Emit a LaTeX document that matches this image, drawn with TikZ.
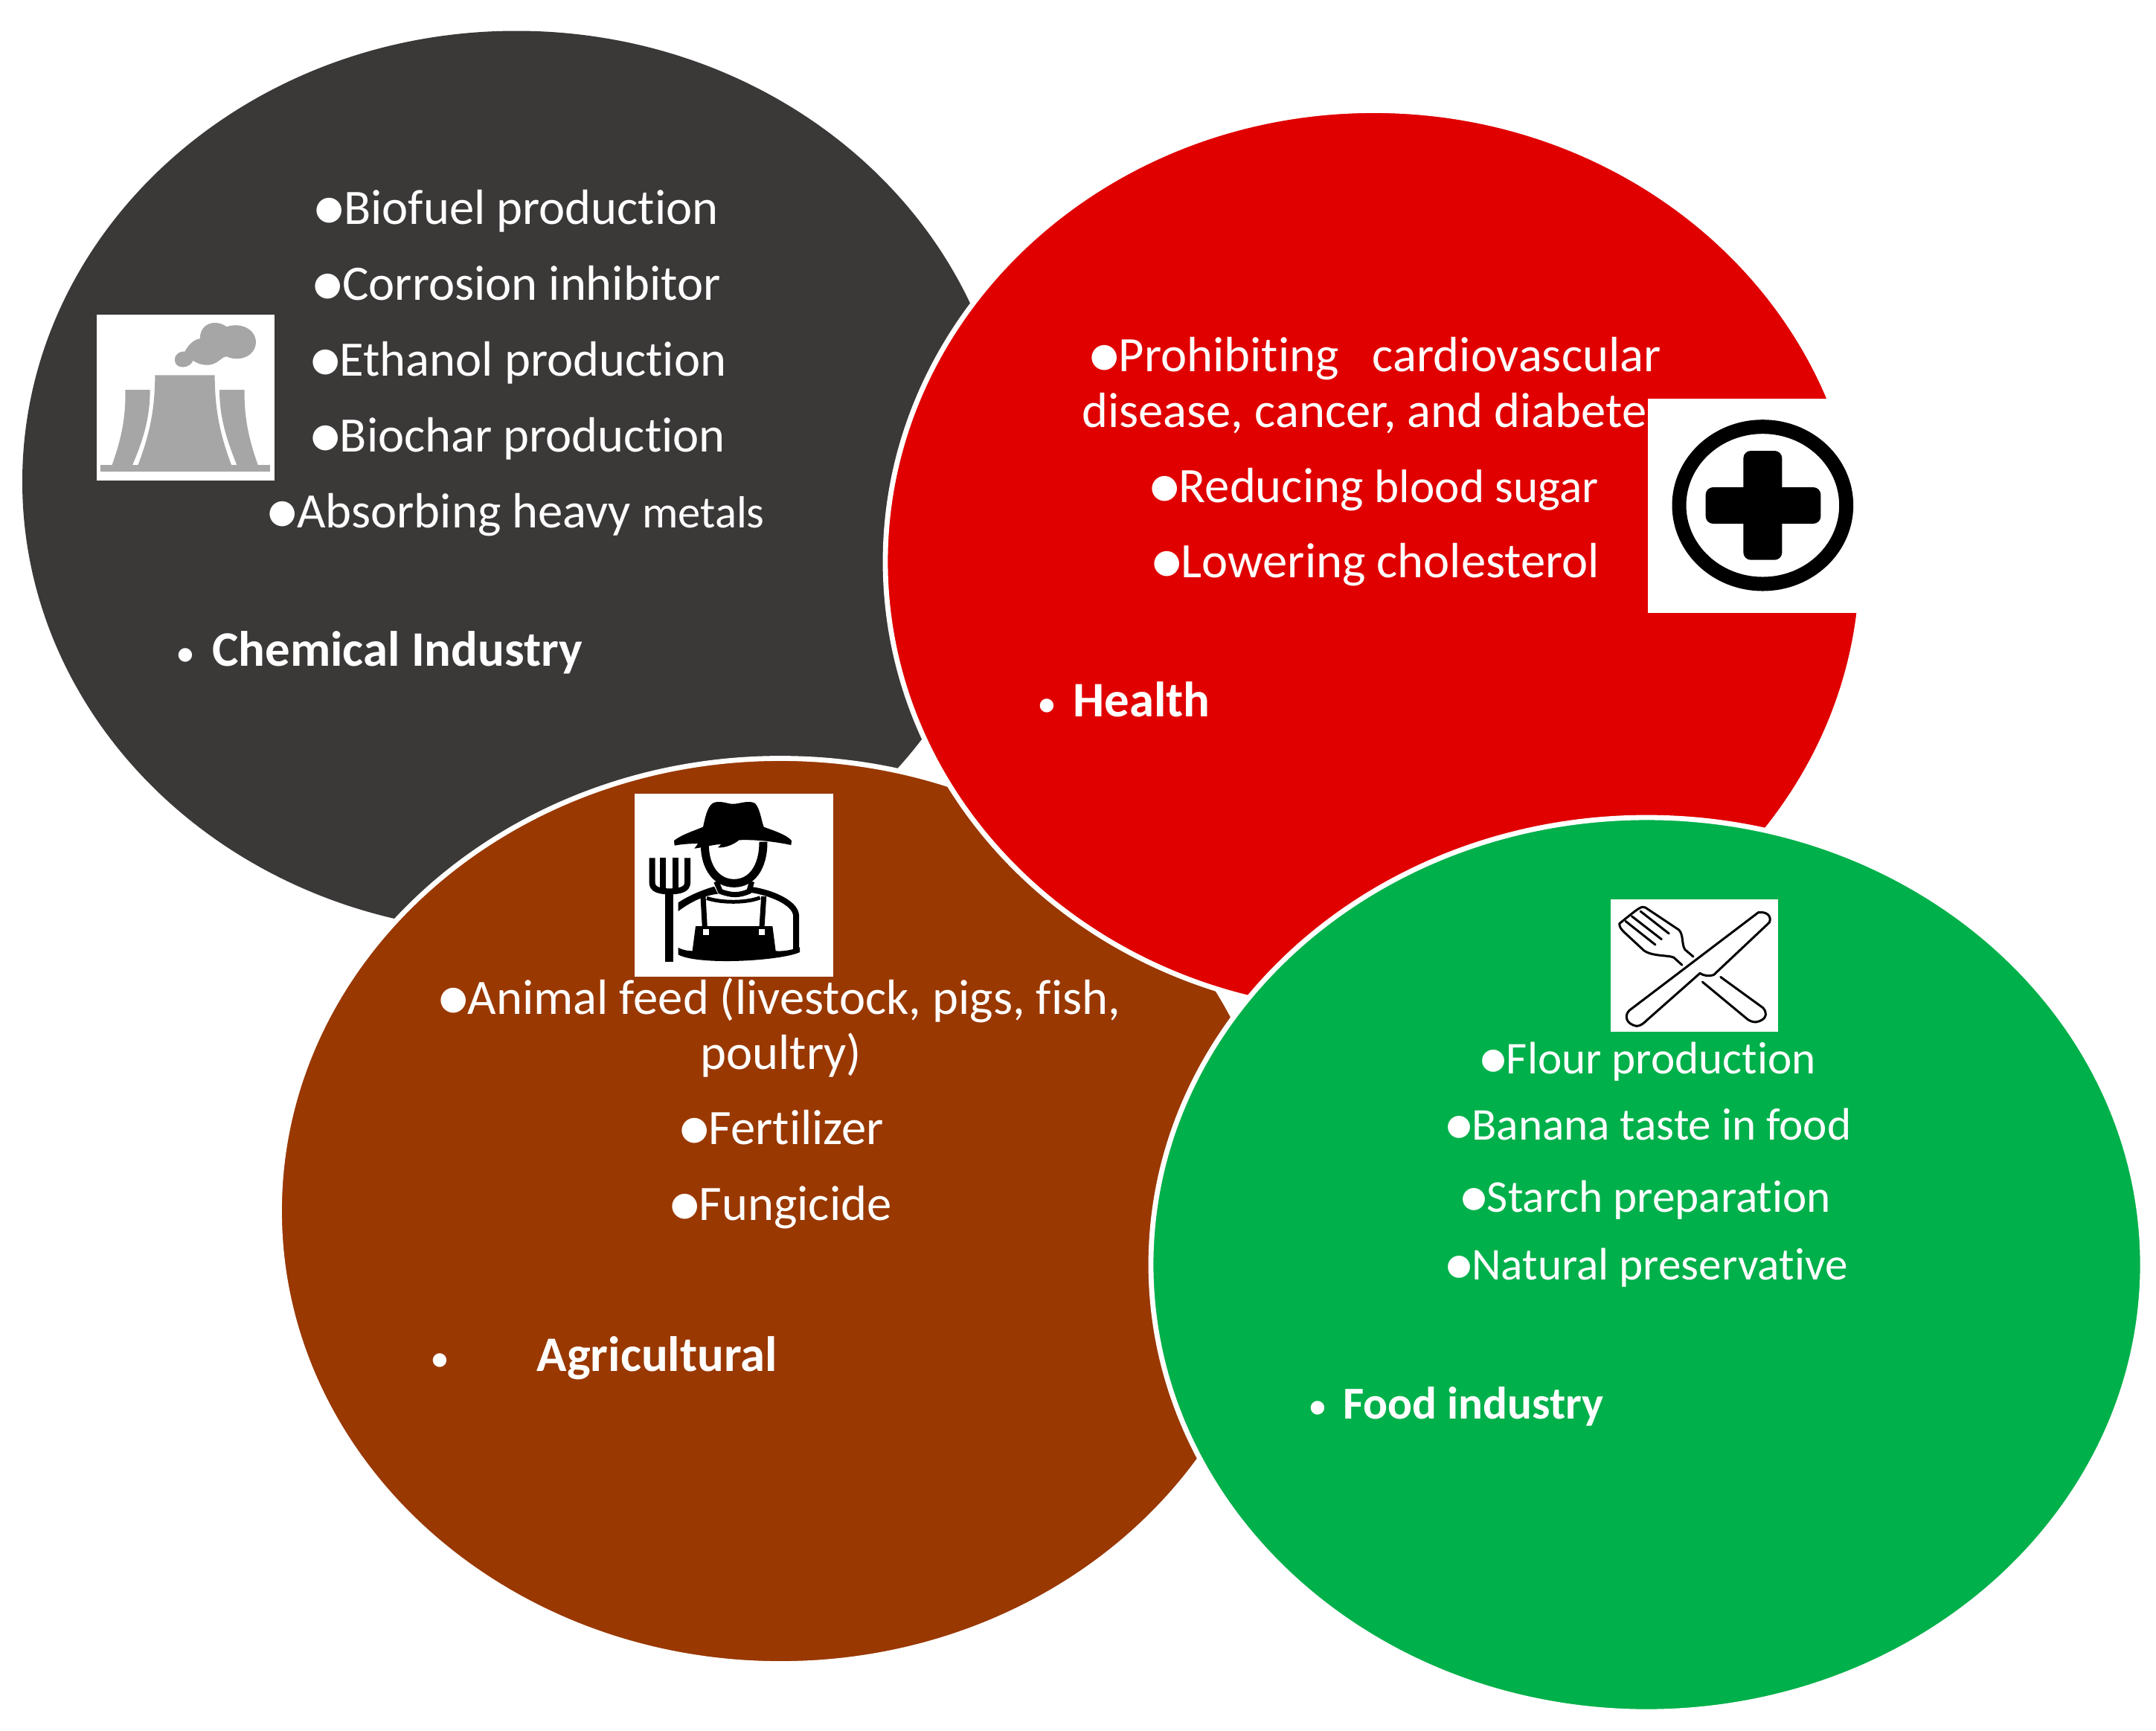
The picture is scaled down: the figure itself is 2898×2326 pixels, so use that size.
\documentclass[tikz,border=0pt]{standalone}
\usepackage{fontspec}
\setmainfont{Carlito}[Ligatures=NoCommon]
\newfontfamily\djfont{DejaVu Sans}
\newcommand{\bul}{\raisebox{3.5pt}{\djfont\fontsize{22}{22}\selectfont ●}}
\newcommand{\fbul}{\raisebox{3.2pt}{\djfont\fontsize{19.5}{20}\selectfont ●}}
\newcommand{\hb}[1]{\makebox[#1][l]{\mdseries\fontsize{26}{26}\selectfont •}}
\newcommand{\smtxt}[1]{{\fontsize{30.3}{31}\selectfont #1}}
\newcommand{\mdtxt}[1]{{\fontsize{31.6}{32}\selectfont #1}}
\definecolor{cdark}{HTML}{3B3838}
\definecolor{cred}{HTML}{E00000}
\definecolor{cbrown}{HTML}{993800}
\definecolor{cgreen}{HTML}{00B04A}
\definecolor{cgray}{HTML}{A6A6A6}
\tikzset{
 blob/.style={draw=white,line width=3.4pt},
 item/.style={anchor=base west,text=white,inner sep=0pt,font=\fontsize{33.3}{36}\selectfont},
 fooditem/.style={item,font=\fontsize{30.6}{33}\selectfont},
 head/.style={item,font=\bfseries\fontsize{33.4}{36}\selectfont},
 foodhead/.style={item,font=\bfseries\fontsize{30.7}{34}\selectfont},
 zoomed/.style={x=0.16667pt,y=-0.16667pt},
 thin line/.style={draw=black,line width=1.5pt,line cap=round,line join=round}
}
\begin{document}
\begin{tikzpicture}[x=0.5pt,y=-0.5pt]
\useasboundingbox (0,0) rectangle (2898,2326);
\fill[white] (0,0) rectangle (2898,2326);
% dark circle
\fill[cdark] (694,647.5) ellipse [x radius=664,y radius=606];
% brown circle
\draw[blob,fill=cbrown] (1049,1628) ellipse [x radius=673.5,y radius=608.5];
% red circle
\draw[blob,fill=cred] (1846.5,755) ellipse [x radius=656.5,y radius=606.5];
% green circle
\draw[blob,fill=cgreen] (2213.5,1700) ellipse [x radius=666.5,y radius=601];

% text dark
\node[item] (t1) at (423.5,301) {\bul Biofuel production};
\node[item] (t2) at (421.5,403) {\bul Corrosion inhibitor};
\node[item] (t3) at (418,505) {\bul Ethanol production};
\node[item] (t4) at (418,607) {\bul Biochar production};
\node[item] (t5) at (360.5,709) {\bul Absorbing heavy \smtxt{metals}};
\node[head] (t6) at (236,895) {\hb{24.5pt}Chemical Industry};
% text red
\node[item] (r1) at (1465,499) {\bul Prohibiting \ \ cardiovascular};
\node[item] (r2) at (1454,574) {disease, cancer, and diabetes};
\node[item] (r3) at (1546,675) {\bul Reducing \mdtxt{blood sugar}};
\node[item] (r4) at (1549,776) {\bul Lowering cholesterol};
\node[head] (r5) at (1394,963) {\hb{24pt}Health};
% text brown
\node[item] (b1) at (590,1363) {\bul Animal feed (livestock, pigs, fish,};
\node[item] (b2) at (941,1437) {poultry)};
\node[item] (b3) at (914,1538) {\bul Fertilizer};
\node[item] (b4) at (901,1640) {\bul Fungicide};
\node[head] (b5) at (578,1843) {\hb{71.7pt}Agricultural};
% text green
\node[fooditem] (g1) at (1990.5,1443) {\fbul Flour production};
\node[fooditem] (g2) at (1944,1532) {\fbul Banana taste in food};
\node[fooditem] (g3) at (1964.5,1629) {\fbul Starch preparation};
\node[fooditem] (g4) at (1944,1720) {\fbul Natural preservative};
\node[foodhead] (g5) at (1758,1907) {\hb{23.5pt}Food industry};

% plant icon
\begin{scope}[shift={(100,400)},zoomed]
\fill[white] (90,68) rectangle (806,738);
\fill[cgray] (106,676) rectangle (790,703);
\fill[cgray] (325,313) -- (566,313) .. controls (566,460) and (590,560) .. (635,680) -- (255,680) .. controls (300,560) and (325,460) .. (325,313) -- cycle;
\fill[cgray] (205,372) -- (305,372) .. controls (305,480) and (280,570) .. (232,680) -- (150,680) .. controls (190,570) and (208,480) .. (205,372) -- cycle;
\fill[cgray] (585,372) -- (686,372) .. controls (684,480) and (702,570) .. (742,680) -- (657,680) .. controls (612,570) and (585,480) .. (585,372) -- cycle;
\fill[cgray] (405,250) .. controls (405,225) and (430,215) .. (445,218) .. controls (460,190) and (480,170) .. (507,165) .. controls (505,125) and (535,100) .. (570,102) .. controls (590,102) and (605,112) .. (615,118) .. controls (660,100) and (730,120) .. (732,180) .. controls (730,240) and (660,260) .. (615,238) .. controls (590,238) and (580,272) .. (535,272) .. controls (510,272) and (490,262) .. (478,254) .. controls (470,285) and (405,295) .. (405,250) -- cycle;
\end{scope}

% health icon
\begin{scope}[shift={(2200,500)},zoomed]
\fill[white] (45,108) rectangle (924,972);
\draw[black,line width=9.5pt] (508,538) ellipse [x radius=337,y radius=317];
\fill[black,rounded corners=5pt] (430,318) rectangle (586,758);
\fill[black,rounded corners=5pt] (278,465) rectangle (742,612);
\end{scope}

% farmer icon
\begin{scope}[shift={(830,1050)},zoomed]
\fill[white] (68,50) rectangle (870,788);
% hat
\fill[black] (228,240) .. controls (260,215) and (310,200) .. (345,185) .. controls (355,140) and (365,90) .. (395,85) .. controls (430,80) and (450,95) .. (470,92) .. controls (490,92) and (530,75) .. (555,90) .. controls (575,110) and (580,160) .. (590,185) .. controls (630,200) and (680,215) .. (702,240) -- (700,258) .. controls (640,245) and (560,235) .. (490,238) .. controls (470,255) and (435,270) .. (405,268) -- (418,255) .. controls (390,255) and (360,265) .. (310,272) -- (325,252) .. controls (290,252) and (255,255) .. (230,260) -- cycle;
% head
\draw[black,line width=5.5pt] (352,255) .. controls (352,350) and (400,412) .. (470,412) .. controls (540,412) and (588,350) .. (588,245);
% neck and collar
\draw[black,line width=3.5pt] (398,405) -- (415,445) .. controls (460,462) and (490,462) .. (530,445) -- (542,405);
% shoulders
\fill[black] (245,490) .. controls (290,460) and (340,440) .. (390,425) -- (405,455) .. controls (350,460) and (290,490) .. (245,525) -- cycle;
\draw[black,line width=4pt] (540,438) .. controls (620,450) and (715,490) .. (720,540) -- (720,690);
% bib straps
\draw[black,line width=3.5pt] (345,465) -- (352,590);
\draw[black,line width=3.5pt] (590,465) -- (582,590);
\draw[black,line width=2.5pt] (360,472) .. controls (420,492) and (520,492) .. (575,470);
% bib
\fill[black] (315,585) -- (625,585) -- (638,685) .. controls (670,688) and (705,680) .. (735,670) -- (735,690) .. controls (660,725) and (330,745) .. (245,700) -- (245,672) .. controls (265,682) and (285,685) .. (302,685) -- cycle;
\fill[white] (344,596) rectangle (368,620);
\fill[white] (570,596) rectangle (594,620);
% fork
\fill[black] (193,440) rectangle (225,728);
\draw[black,line width=4pt] (140,310) -- (140,410) .. controls (140,435) and (165,445) .. (210,445) .. controls (255,445) and (282,435) .. (282,410) -- (282,310);
\draw[black,line width=4pt] (183,310) -- (183,440);
\draw[black,line width=4pt] (233,310) -- (233,440);
\end{scope}

% food icon
\begin{scope}[shift={(2150,1190)},zoomed]
\fill[white] (45,57) rectangle (720,590);
% knife
\draw[thin line] (405,355) .. controls (420,365) and (440,368) .. (460,362) -- (685,150) .. controls (695,125) and (675,105) .. (640,110) -- (120,505) .. controls (100,525) and (105,560) .. (150,568) .. controls (165,568) and (180,555) .. (190,545) -- cycle;
% fork handle
\draw[thin line] (488,370) -- (660,495) .. controls (680,520) and (670,545) .. (630,552) .. controls (615,552) and (600,545) .. (590,535) -- (415,390);
% fork head
\draw[thin line] (378,288) -- (345,260) .. controls (330,240) and (340,200) .. (320,180) -- (185,90) .. controls (170,82) and (160,90) .. (80,155) .. controls (80,170) and (90,180) .. (100,190) -- (170,255) .. controls (200,290) and (280,280) .. (300,292) -- (333,322);
\draw[thin line] (165,105) -- (280,195);
\draw[thin line] (130,125) -- (250,218);
\draw[thin line] (105,145) -- (225,240);
\end{scope}
\end{tikzpicture}
\end{document}
